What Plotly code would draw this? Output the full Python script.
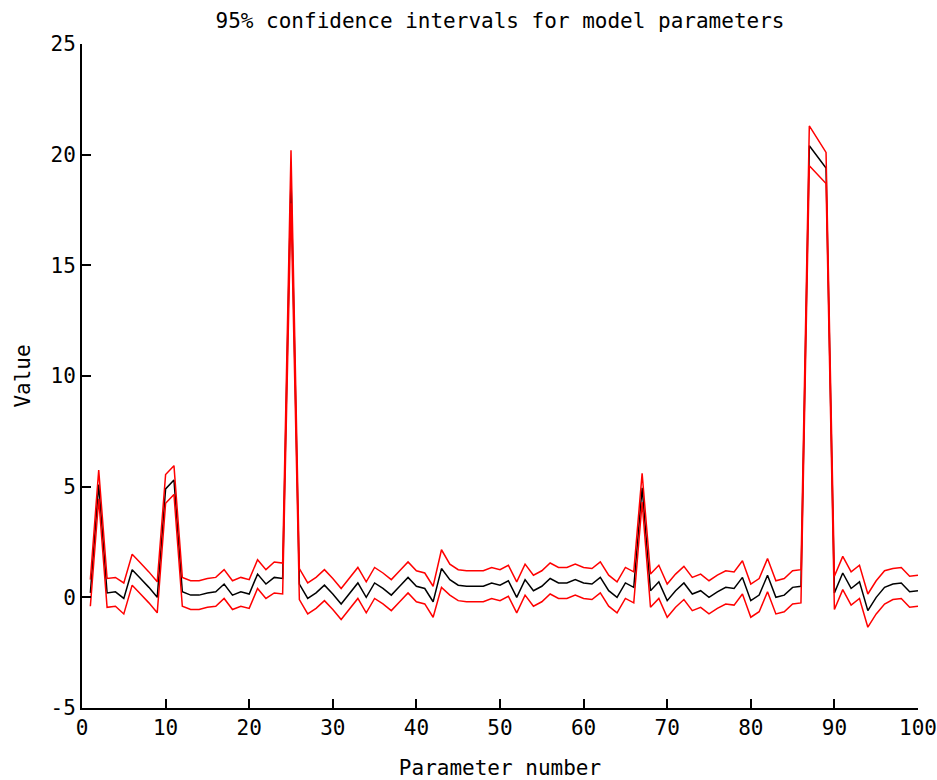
import plotly.graph_objects as go

# parameter index and estimated values (black), with CI half-widths (red)
params = list(range(1, 101))
values = [0.2, 5.1, 0.2, 0.25, -0.05, 1.25, 0.85, 0.45, 0.0, 4.9,
          5.3, 0.25, 0.1, 0.1, 0.2, 0.25, 0.6, 0.1, 0.25, 0.15,
          1.05, 0.6, 0.9, 0.85, 19.0, 0.6, -0.05, 0.2, 0.55, 0.15,
          -0.3, 0.15, 0.65, 0.0, 0.65, 0.4, 0.1, 0.5, 0.9, 0.5,
          0.4, -0.2, 1.3, 0.8, 0.55, 0.5, 0.5, 0.5, 0.65, 0.55,
          0.75, 0.0, 0.8, 0.3, 0.5, 0.85, 0.65, 0.65, 0.8, 0.65,
          0.6, 0.9, 0.3, 0.0, 0.65, 0.45, 4.95, 0.3, 0.7, -0.15,
          0.3, 0.65, 0.15, 0.3, 0.0, 0.25, 0.45, 0.4, 0.9, -0.15,
          0.1, 1.0, 0.0, 0.1, 0.45, 0.5, 20.4, 19.9, 19.4, 0.2,
          1.1, 0.4, 0.7, -0.6, 0.0, 0.45, 0.6, 0.65, 0.25, 0.3]
half_width = [0.6, 0.65, 0.65, 0.65, 0.7, 0.7, 0.7, 0.7, 0.7, 0.65,
              0.65, 0.65, 0.65, 0.65, 0.65, 0.65, 0.65, 0.65, 0.65, 0.65,
              0.65, 0.65, 0.7, 0.7, 1.2, 0.7, 0.7, 0.7, 0.7, 0.7,
              0.7, 0.7, 0.7, 0.7, 0.7, 0.7, 0.7, 0.7, 0.7, 0.7,
              0.7, 0.7, 0.85, 0.7, 0.7, 0.7, 0.7, 0.7, 0.7, 0.7,
              0.7, 0.7, 0.7, 0.7, 0.7, 0.7, 0.7, 0.7, 0.7, 0.7,
              0.7, 0.7, 0.7, 0.7, 0.7, 0.7, 0.65, 0.75, 0.75, 0.75,
              0.75, 0.75, 0.75, 0.75, 0.75, 0.75, 0.75, 0.75, 0.75, 0.75,
              0.75, 0.75, 0.75, 0.75, 0.75, 0.75, 0.9, 0.8, 0.7, 0.75,
              0.75, 0.75, 0.75, 0.75, 0.75, 0.75, 0.7, 0.7, 0.7, 0.7]

upper = [v + h for v, h in zip(values, half_width)]
lower = [v - h for v, h in zip(values, half_width)]

y_ticks = [-5, 0, 5, 10, 15, 20, 25]
x_ticks = [0, 10, 20, 30, 40, 50, 60, 70, 80, 90, 100]

font = "DejaVu Sans Mono, Liberation Mono, monospace"

fig = go.Figure()
fig.add_trace(go.Scatter(x=params, y=values, mode="lines",
                         line=dict(color="black", width=1.5)))
fig.add_trace(go.Scatter(x=params, y=upper, mode="lines",
                         line=dict(color="red", width=1.5)))
fig.add_trace(go.Scatter(x=params, y=lower, mode="lines",
                         line=dict(color="red", width=1.5)))

fig.update_layout(
    width=937, height=780,
    margin=dict(l=82, r=19, t=44, b=72, autoexpand=False),
    paper_bgcolor="white", plot_bgcolor="white",
    showlegend=False,
    font=dict(family=font, size=21, color="black"),
    title=dict(text="95% confidence intervals for model parameters",
               x=500 / 937, xanchor="center", y=1 - 21 / 780, yref="container",
               yanchor="middle", font=dict(family=font, size=21)),
)
fig.update_xaxes(range=[0, 100], tickvals=x_ticks,
                 ticktext=[str(t) for t in x_ticks],
                 showgrid=False, zeroline=False, automargin=False,
                 ticklabeloverflow="allow",
                 showline=True, linecolor="black", linewidth=2,
                 ticks="inside", ticklen=9, tickwidth=2, tickcolor="black",
                 tickfont=dict(size=21),
                 title=dict(text="Parameter number", standoff=34,
                            font=dict(size=21)))
fig.update_yaxes(range=[-5, 25], tickvals=y_ticks,
                 ticktext=[str(t) for t in y_ticks],
                 showgrid=False, zeroline=False, automargin=False,
                 showline=True, linecolor="black", linewidth=2,
                 ticks="inside", ticklen=9, tickwidth=2, tickcolor="black",
                 tickfont=dict(size=21),
                 title=dict(text="Value", standoff=14, font=dict(size=21)))

# drop the default page margin so the figure sits at the window's corner
fig.write_html("out.html", config={"displayModeBar": False},
               post_script="document.body.style.margin = '0';")
